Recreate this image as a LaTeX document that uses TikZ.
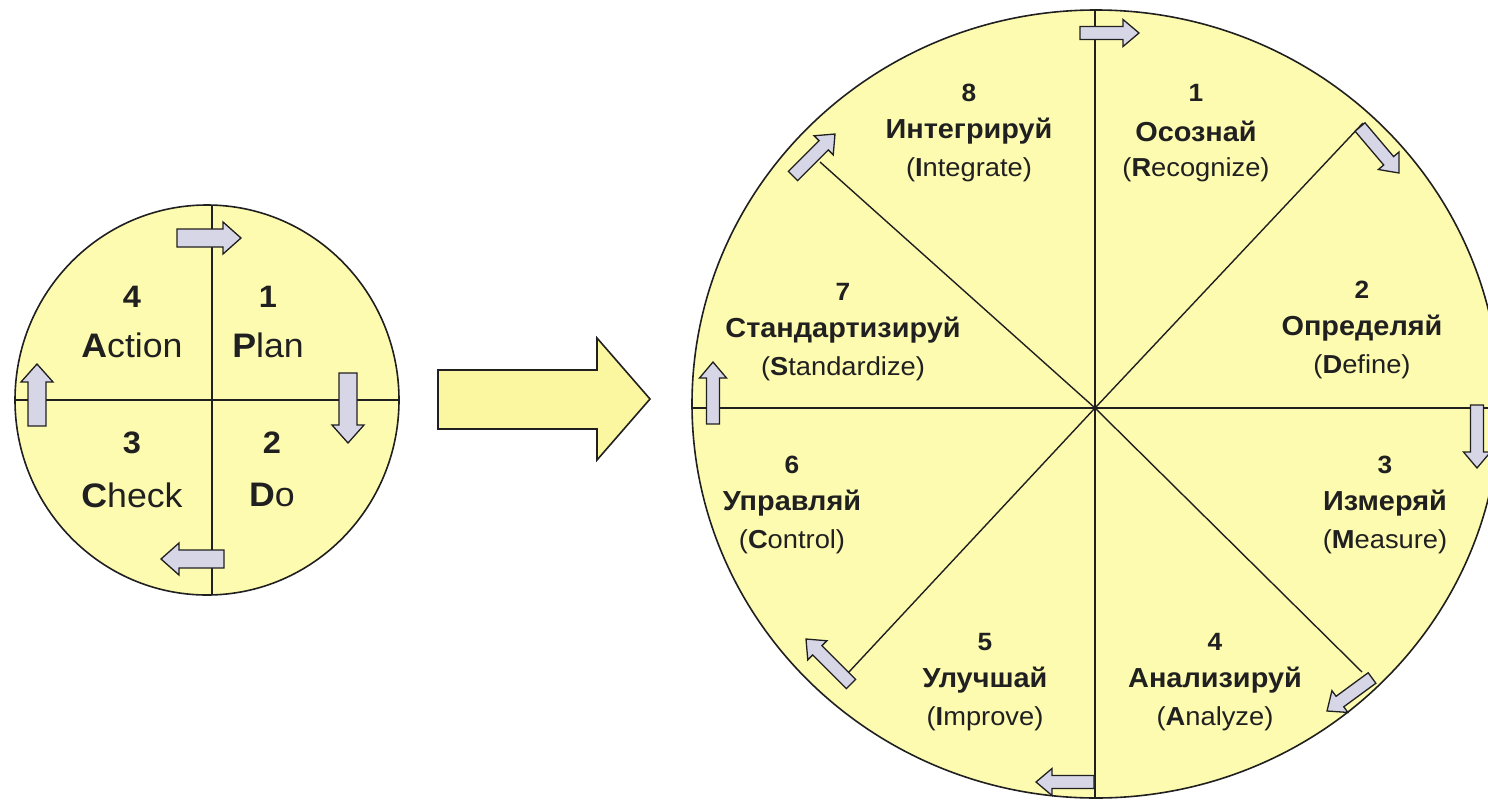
\documentclass[tikz,border=0pt]{standalone}
\usepackage{fontspec}
\setmainfont[FakeStretch=1.05]{Liberation Sans}
\definecolor{diskfill}{HTML}{FDFBB0}
\definecolor{arrowfill}{HTML}{D6D6E6}
\definecolor{bigfill}{HTML}{FBF7A0}
\definecolor{ink}{HTML}{202020}
\tikzset{
  disk/.style={fill=diskfill, draw=ink, line width=1.6pt},
  divider/.style={draw=ink, line width=1.4pt},
  cycarrow/.style={fill=arrowfill, draw=ink, line width=1.3pt, line join=miter},
  bigarrow/.style={fill=bigfill, draw=ink, line width=1.6pt, line join=miter},
  lbl/.style={align=center, text=ink, inner sep=0pt, anchor=center},
  pnum/.style={lbl, font=\bfseries\fontsize{31}{34}\selectfont},
  pword/.style={lbl, font=\fontsize{34}{37}\selectfont},
  snum/.style={lbl, font=\bfseries\fontsize{25}{28}\selectfont},
  sru/.style={lbl, font=\bfseries\fontsize{27.5}{30}\selectfont},
  sen/.style={lbl, font=\fontsize{26}{29}\selectfont},
}
% block arrow from tail (#1,#2) to tip (#3,#4); shaft half width #5, head half width #6, head length #7
\newcommand{\cycarrowdraw}[7]{%
  \pgfmathsetmacro{\cdx}{#3-#1}%
  \pgfmathsetmacro{\cdy}{#4-#2}%
  \pgfmathsetmacro{\cL}{veclen(\cdx,\cdy)}%
  \pgfmathsetmacro{\cA}{atan2(-\cdy,\cdx)}%
  \begin{scope}[shift={(#1,#2)},rotate=\cA]
    \draw[cycarrow] (0,-#5) -- (\cL-#7,-#5) -- (\cL-#7,-#6) -- (\cL,0)
      -- (\cL-#7,#6) -- (\cL-#7,#5) -- (0,#5) -- cycle;
  \end{scope}}
% sector label: name, x, y of number, number, russian, english
\newcommand{\sectorlabel}[6]{%
  \node[snum] (#1num) at (#2,#3) {#4};
  \node[sru]  (#1ru)  at (#2,#3+38) {#5};
  \node[sen]  (#1en)  at (#2,#3+77) {#6};}
\begin{document}
\begin{tikzpicture}[x=1pt,y=-1pt]
\useasboundingbox (0,0) rectangle (1488,806);

% ---------------- small PDCA circle ----------------
\draw[disk] (207,400) ellipse [x radius=192, y radius=195];
\coordinate (pT) at (212,205);
\coordinate (pB) at (212,595);
\coordinate (pL) at (15,400);
\coordinate (pR) at (398,400);
\draw[divider] (pT) -- (pB);
\draw[divider] (pL) -- (pR);
\cycarrowdraw{177}{238}{241}{238}{9}{16}{18}
\cycarrowdraw{348}{373}{348}{443}{9}{16}{18}
\cycarrowdraw{224}{559}{161}{559}{9}{16}{18}
\cycarrowdraw{37}{426}{37}{364}{9}{16}{18}

\node[pnum]  (p4num) at (132,297) {4};
\node[pword] (p4txt) at (132,345) {\textbf{A}ction};
\node[pnum]  (p1num) at (268,297) {1};
\node[pword] (p1txt) at (268,345) {\textbf{P}lan};
\node[pnum]  (p3num) at (132,443) {3};
\node[pword] (p3txt) at (132,495) {\textbf{C}heck};
\node[pnum]  (p2num) at (272,443) {2};
\node[pword] (p2txt) at (272,495) {\textbf{D}o};

% ---------------- big transition arrow ----------------
\draw[bigarrow] (438,370) -- (597,370) -- (597,338) -- (650,399)
  -- (597,460) -- (597,429) -- (438,429) -- cycle;

% ---------------- big 8-step circle ----------------
\draw[disk] (1096,404) ellipse [x radius=404, y radius=394];
\coordinate (C)  at (1095,408);
\coordinate (T)  at (1095,11);
\coordinate (B)  at (1095,797);
\coordinate (L)  at (693,408);
\coordinate (R)  at (1500,408);
\coordinate (NE) at (1363,123);
\coordinate (SE) at (1362,672);
\coordinate (SW) at (848,673);
\coordinate (NW) at (820,162);
\draw[divider] (T) -- (B);
\draw[divider] (L) -- (R);
\draw[divider] (C) -- (NE);
\draw[divider] (C) -- (SE);
\draw[divider] (C) -- (SW);
\draw[divider] (C) -- (NW);

\cycarrowdraw{1080}{33}{1139}{33}{6.5}{13.5}{16}
\cycarrowdraw{1360}{127}{1399}{173}{6.5}{13.5}{16}
\cycarrowdraw{1477}{405}{1477}{468}{6.5}{13.5}{16}
\cycarrowdraw{1372}{678}{1327}{711}{6.5}{13.5}{16}
\cycarrowdraw{1094}{782}{1036}{782}{6.5}{13.5}{16}
\cycarrowdraw{851}{684}{806}{639}{6.5}{13.5}{16}
\cycarrowdraw{713}{424}{713}{362}{6.5}{13.5}{16}
\cycarrowdraw{793}{176}{835}{134}{6.5}{13.5}{16}

\sectorlabel{s1}{1196}{93}{1}{Осознай}{(\textbf{R}ecognize)}
\sectorlabel{s2}{1362}{290}{2}{Определяй}{(\textbf{D}efine)}
\sectorlabel{s3}{1385}{465}{3}{Измеряй}{(\textbf{M}easure)}
\sectorlabel{s4}{1215}{642}{4}{Анализируй}{(\textbf{A}nalyze)}
\sectorlabel{s5}{985}{642}{5}{Улучшай}{(\textbf{I}mprove)}
\sectorlabel{s6}{792}{465}{6}{Управляй}{(\textbf{C}ontrol)}
\sectorlabel{s7}{843}{292}{7}{Стандартизируй}{(\textbf{S}tandardize)}
\sectorlabel{s8}{969}{93}{8}{Интегрируй}{(\textbf{I}ntegrate)}
\end{tikzpicture}
\end{document}
